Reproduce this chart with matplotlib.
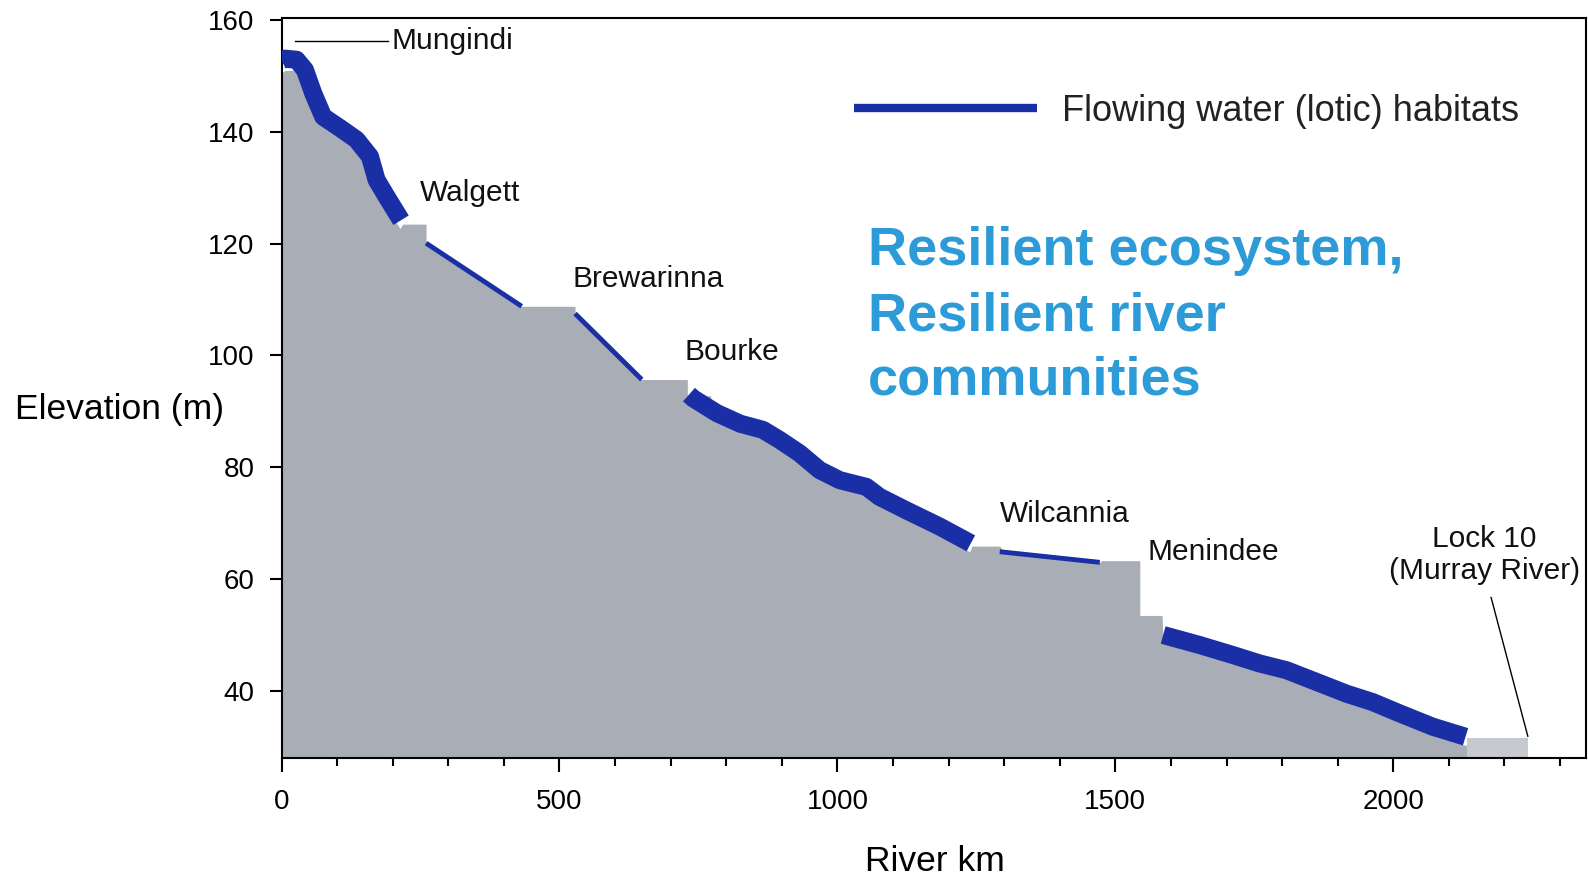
import matplotlib
matplotlib.use("Agg")
import matplotlib.pyplot as plt
from matplotlib.ticker import MultipleLocator

plt.rcParams['font.family'] = ['Liberation Sans', 'DejaVu Sans']

# ground profile (top of the grey area), river km / elevation m
gray_km = [0, 6, 27, 42, 57, 75, 105, 135, 159, 171, 189, 213, 218, 260, 260, 432, 528, 528,
           648, 730, 730, 772, 772, 783, 825, 866, 896, 932, 968, 1004, 1052, 1076, 1124,
           1184, 1238, 1242, 1292, 1300, 1472, 1475, 1544, 1544, 1584, 1586, 1652, 1712,
           1760, 1808, 1862, 1916, 1963, 2011, 2071, 2128, 2132]
gray_elev = [150.5, 151.0, 151.0, 149.5, 145.3, 141.1, 139.1, 137.0, 134.0, 129.8, 126.8, 122.7,
             123.5, 123.5, 120.1, 108.8, 108.8, 107.5, 95.7, 95.7, 92.8, 92.8, 88.5, 88.2,
             86.3, 85.2, 83.4, 81.0, 78.0, 76.2, 75.0, 73.2, 70.8, 67.9, 64.9, 65.9, 65.9,
             64.8, 63.0, 63.3, 63.3, 53.5, 53.5, 48.5, 46.7, 44.9, 43.4, 42.2, 40.1, 38.0,
             36.5, 34.5, 32.1, 30.3, 30.3]

# Lock 10 pool
lock_km = [2132, 2243]
lock_elev = [31.6, 31.6]

# flowing water (lotic) reaches
thick_segs = [
    ([0, 6, 27, 42, 57, 75, 105, 135, 159, 171, 189, 215],
     [152.8, 153.1, 152.9, 151.1, 146.9, 142.7, 140.7, 138.6, 135.6, 131.4, 128.4, 124.2]),
    ([733, 741, 783, 825, 866, 896, 932, 968, 1004, 1052, 1076, 1124, 1184, 1240],
     [93.0, 92.3, 89.7, 87.8, 86.7, 84.9, 82.5, 79.5, 77.7, 76.5, 74.7, 72.3, 69.4, 66.4]),
    ([1586, 1652, 1712, 1760, 1808, 1862, 1916, 1963, 2011, 2071, 2130],
     [50.0, 48.2, 46.4, 44.9, 43.7, 41.6, 39.5, 38.0, 36.0, 33.6, 31.8]),
]
thin_segs = [
    ([260, 432], [120.1, 108.8]),
    ([528, 648], [107.5, 95.7]),
    ([1292, 1472], [64.9, 63.0]),
]

towns = ["Walgett", "Brewarinna", "Bourke", "Wilcannia", "Menindee"]
town_km = [249, 524, 725, 1292, 1558]
town_elev = [129.1, 113.7, 100.6, 71.6, 64.8]

# label leaders
mungindi_line_km = [24, 191]
mungindi_line_elev = [156.3, 156.3]
lock_line_km = [2176, 2242]
lock_line_elev = [56.7, 31.9]

slogan = ["Resilient ecosystem,", "Resilient river", "communities"]
slogan_y = [116.1, 104.4, 93.0]

blue = '#1a2fa6'
grey = '#a9adb6'

fig = plt.figure(figsize=(15.88, 8.76), dpi=100)
ax = fig.add_axes([0.1773, 0.1347, 0.8212, 0.8443])

ax.fill_between(gray_km, gray_elev, 28, color=grey, lw=0, zorder=1)
ax.fill_between(lock_km, lock_elev, 28, color='#c6c9ce', lw=0, zorder=1)

for km, el in thick_segs:
    ax.plot(km, el, color=blue, lw=13, solid_capstyle='butt', solid_joinstyle='round', zorder=3)
for i, (km, el) in enumerate(thin_segs):
    ax.plot(km, el, color=blue, lw=3.5, solid_capstyle='butt', zorder=3,
            label='Flowing water (lotic) habitats' if i == 0 else None)

for name, x, y in zip(towns, town_km, town_elev):
    ax.text(x, y, name, fontsize=21.5, va='center', ha='left', color='#111111')

ax.plot(mungindi_line_km, mungindi_line_elev, color='black', lw=1)
ax.text(198, 156.3, "Mungindi", fontsize=21.5, va='center', ha='left', color='#111111')

ax.plot(lock_line_km, lock_line_elev, color='black', lw=1)
ax.text(2164, 64.3, "Lock 10\n(Murray River)", fontsize=21.5, ha='center', va='center',
        linespacing=1.15, color='#111111')

for s, y in zip(slogan, slogan_y):
    ax.text(1055, y, s, fontsize=39, fontweight='bold', color='#2c9bd7', va='baseline', ha='left')

leg = ax.legend(loc='center left', bbox_to_anchor=(0.439, 0.874), frameon=False,
                fontsize=26, handlelength=5.07, handletextpad=0.7, borderaxespad=0, borderpad=0)
for h in leg.legend_handles:
    h.set_linewidth(6)
for t in leg.get_texts():
    t.set_color('#222222')

ax.set_xlim(0, 2346)
ax.set_ylim(28, 160.3)
ax.xaxis.set_major_locator(MultipleLocator(500))
ax.xaxis.set_minor_locator(MultipleLocator(100))
ax.set_yticks([40, 60, 80, 100, 120, 140, 160])
ax.tick_params(axis='x', which='major', length=10, width=1.5, pad=12, labelsize=20)
ax.tick_params(axis='x', which='minor', length=6, width=1.5)
ax.tick_params(axis='y', which='major', length=8.5, width=1.5, pad=11, labelsize=20)
for sp in ax.spines.values():
    sp.set_linewidth(1.5)

fig.text(0.075, 0.533, "Elevation (m)", fontsize=25.5, ha='center', va='center')
fig.text(0.589, 0.016, "River km", fontsize=25.5, ha='center', va='center')

fig.savefig("out.png", dpi=100)
